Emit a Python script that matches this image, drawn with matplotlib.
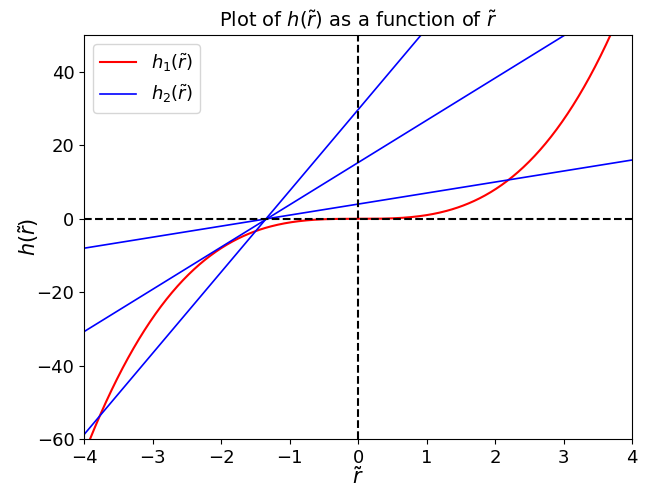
import numpy as np
import matplotlib
matplotlib.use('Agg')
from matplotlib import pyplot as plt

# h1(r) = c * r^3 (coefficient)
h1_coef = [1.0]
# straight lines h2(r) = slope * r + intercept
h2_slopes = [3.0, 11.5, 22.1]
h2_intercepts = [4.0, 15.3, 29.7]

x_limits = [-4, 4]
y_limits = [-60, 50]


def main():
    fig = plt.figure(figsize=(6.47, 4.87), dpi=100)
    ax = fig.add_axes([0.130, 0.098, 0.847, 0.830])

    r = np.linspace(x_limits[0], x_limits[1], 400)

    ax.plot(r, h1_coef[0] * r**3, color='red', lw=1.5, label=r'$h_1(\tilde{r})$')
    for i, (m, b) in enumerate(zip(h2_slopes, h2_intercepts)):
        ax.plot(r, m * r + b, color='blue', lw=1.2,
                label=r'$h_2(\tilde{r})$' if i == 0 else None)

    ax.axhline(0, color='black', ls='--', lw=1.5)
    ax.axvline(0, color='black', ls='--', lw=1.5)

    ax.set_xlim(x_limits)
    ax.set_ylim(y_limits)
    ax.tick_params(labelsize=13)
    ax.set_xlabel(r'$\tilde{r}$', fontsize=15, labelpad=-0.5)
    ax.set_ylabel(r'$h(\tilde{r})$', fontsize=15, labelpad=-3)
    ax.set_title(r'Plot of $h(\tilde{r})$ as a function of $\tilde{r}$', fontsize=14)
    ax.legend(loc='upper left', fontsize=13)

    fig.savefig('out.png', dpi=100)


if __name__ == '__main__':
    main()
